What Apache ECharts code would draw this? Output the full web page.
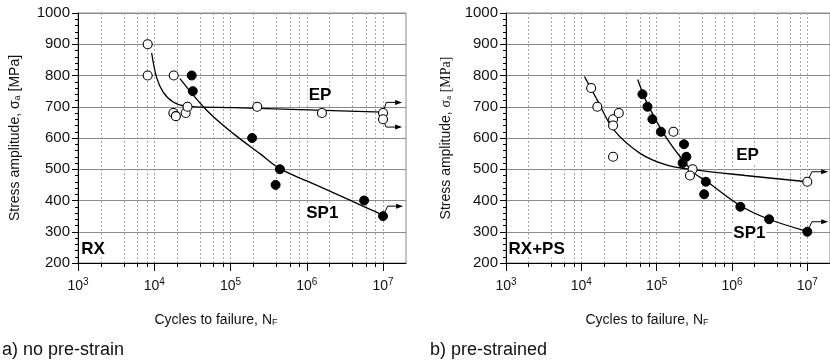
<!DOCTYPE html>
<html>
<head>
<meta charset="utf-8">
<script src="https://cdn.jsdelivr.net/npm/echarts@6/dist/echarts.min.js"></script>
<style>html,body{margin:0;padding:0;background:#fff}#c{width:830px;height:364px}</style>
</head>
<body>
<div id="c"></div>
<script>
// ---------- data ----------
const decadeTicks = [1e3, 1e4, 1e5, 1e6, 1e7];
const minorTicks = [2e3,4e3,6e3,8e3, 2e4,4e4,6e4,8e4, 2e5,4e5,6e5,8e5, 2e6,4e6,6e6,8e6];
const yTicks = [200,300,400,500,600,700,800,900,1000];

// panel a) no pre-strain (RX)
const aEPCycles  = [8.2e3, 8.2e3, 1.8e4, 1.78e4, 1.92e4, 2.58e4, 2.73e4, 2.24e5, 1.58e6, 1e7, 1e7];
const aEPStress  = [900, 800, 800, 680, 670, 680, 700, 700, 680, 680, 660];
const aSPCycles  = [3.1e4, 3.2e4, 1.92e5, 4.44e5, 3.9e5, 5.65e6, 1e7];
const aSPStress  = [800, 750, 600, 500, 450, 400, 350];
const aEPFitCycles = [9.25e3, 1.07e4, 1.31e4, 1.77e4, 2.65e4, 1.09e5, 8.1e5, 1e7];
const aEPFitStress = [872, 795, 747, 715, 701, 697, 691, 683];
const aSPFitCycles = [2.17e4, 4.86e4, 1.09e5, 2.43e5, 4.44e5, 1.34e6, 3.67e6, 1e7];
const aSPFitStress = [790, 689, 614, 550, 502, 449, 401, 353];
const aRunouts = [
  [[1e7,680],[1.1e7,714],[1.6e7,714]],
  [[1e7,660],[1.1e7,635],[1.6e7,635]],
  [[1e7,350],[1.15e7,382],[1.65e7,382]]
];
const aLabels = [ {t:'EP', x:1.49e6, y:737}, {t:'SP1', x:1.6e6, y:360}, {t:'RX', x:1.57e3, y:245} ];

// panel b) pre-strained (RX+PS)
const bEPCycles  = [1.35e4, 1.63e4, 2.64e4, 2.64e4, 3.14e4, 2.64e4, 1.67e5, 3.0e5, 2.77e5, 1e7];
const bEPStress  = [760, 700, 660, 640, 680, 540, 620, 500, 480, 460];
const bSPCycles  = [6.48e4, 7.55e4, 8.78e4, 1.14e5, 2.31e5, 2.48e5, 2.21e5, 4.5e5, 4.27e5, 1.29e6, 3.11e6, 1e7];
const bSPStress  = [740, 700, 660, 620, 580, 540, 520, 460, 420, 380, 340, 300];
const bEPFitCycles = [1.1e4, 1.63e4, 2.72e4, 6.1e4, 1.37e5, 3e5, 1.5e6, 1e7];
const bEPFitStress = [797, 721, 625, 550, 513, 499, 480, 460];
const bSPFitCycles = [5.6e4, 7.5e4, 1.24e5, 2.05e5, 3.22e5, 4.5e5, 1.26e6, 3.1e6, 1e7];
const bSPFitStress = [787, 710, 614, 540, 486, 463, 385, 340, 301];
const bRunouts = [
  [[1e7,460],[1.15e7,492],[1.7e7,492]],
  [[1e7,300],[1.15e7,332],[1.7e7,332]]
];
const bLabels = [ {t:'EP', x:1.61e6, y:545}, {t:'SP1', x:1.7e6, y:296}, {t:'RX+PS', x:2.55e3, y:245} ];

// ---------- build ----------
const FONT = 'Liberation Sans, Arial, sans-serif';
const zip = (xs, ys) => xs.map((x, i) => [x, ys[i]]);
const grids = [
  {left: 78, top: 13, width: 328, height: 250},
  {left: 506, top: 13, width: 327, height: 250}
];

function xAxes(gi) {
  return [
    {
      type: 'log', logBase: 10, gridIndex: gi, min: 1e3, max: 2e7,
      axisLine: {show: true, lineStyle: {color: '#000', width: 1}},
      axisTick: {show: true, length: 4, inside: false, customValues: minorTicks.concat(decadeTicks), lineStyle: {color: '#000'}},
      splitLine: {show: true, lineStyle: {color: '#a8a8a8', type: [2, 2], width: 1}},
      axisLabel: {
        customValues: decadeTicks, margin: 14, color: '#111',
        formatter: v => '{b|10}{e|' + Math.round(Math.log10(v)) + '}',
        rich: {
          b: {fontSize: 14, fontFamily: FONT, color: '#111', lineHeight: 18},
          e: {fontSize: 10, fontFamily: FONT, color: '#111', verticalAlign: 'top', lineHeight: 12}
        }
      }
    },
    {
      type: 'log', logBase: 10, gridIndex: gi, min: 1e3, max: 2e7, position: 'bottom',
      axisLine: {show: false},
      axisTick: {show: true, length: 8, customValues: decadeTicks, lineStyle: {color: '#000'}},
      splitLine: {show: false},
      axisLabel: {show: false}
    }
  ];
}

function yAxis(gi, gap, serif) {
  const sf = serif ? 'Liberation Serif, Times New Roman, serif' : FONT;
  return {
    type: 'value', gridIndex: gi, min: 200, max: 1000, interval: 100,
    axisLine: {show: true, lineStyle: {color: '#000', width: 1}},
    axisTick: {show: true, length: 6, lineStyle: {color: '#000'}},
    minorTick: {show: true, splitNumber: 5, length: 3, lineStyle: {color: '#000'}},
    splitLine: {show: true, lineStyle: {color: '#8a8a8a', width: 1.2}},
    axisLabel: {fontSize: 15, fontFamily: FONT, color: '#111', margin: 8, formatter: v => String(v)},
    name: '{t|Stress amplitude, }{g|σ}{s|a}{m| [MPa]}',
    nameLocation: 'middle', nameRotate: 90, nameGap: gap,
    nameTextStyle: {
      rich: {
        t: {fontSize: 14, fontFamily: FONT, color: '#111'},
        g: {fontSize: 14, fontFamily: sf, color: '#111'},
        s: {fontSize: 9, fontFamily: sf, color: '#111', verticalAlign: 'bottom', padding: [4, 0, 0, 0]},
        m: {fontSize: 14, fontFamily: sf, color: '#111'}
      }
    }
  };
}

function panelSeries(xi, yi, ep, sp, epFit, spFit, runouts, labels) {
  const s = [];
  s.push({type: 'line', xAxisIndex: xi, yAxisIndex: yi, data: epFit, smooth: 0.35, showSymbol: false, symbol: 'none',
          lineStyle: {color: '#000', width: 1.3}, z: 3, silent: true});
  s.push({type: 'line', xAxisIndex: xi, yAxisIndex: yi, data: spFit, smooth: 0.35, showSymbol: false, symbol: 'none',
          lineStyle: {color: '#000', width: 1.3}, z: 3, silent: true});
  runouts.forEach(r => s.push({
    type: 'line', xAxisIndex: xi, yAxisIndex: yi, z: 3, silent: true, symbol: 'none',
    lineStyle: {color: '#000', width: 1},
    itemStyle: {color: '#000', opacity: 1},
    data: r.map((p, i) => i === r.length - 1
      ? {value: p, symbol: 'triangle', symbolSize: [5, 7], symbolRotate: -90}
      : {value: p, symbol: 'none'})
  }));
  s.push({type: 'scatter', xAxisIndex: xi, yAxisIndex: yi, data: ep, symbol: 'circle', symbolSize: 9, z: 5,
          itemStyle: {color: '#fff', borderColor: '#000', borderWidth: 1.1, opacity: 1}});
  s.push({type: 'scatter', xAxisIndex: xi, yAxisIndex: yi, data: sp, symbol: 'circle', symbolSize: 9, z: 5,
          itemStyle: {color: '#000', borderColor: '#000', borderWidth: 1, opacity: 1}});
  s.push({type: 'scatter', xAxisIndex: xi, yAxisIndex: yi, symbolSize: 0, z: 6, silent: true,
          itemStyle: {opacity: 1},
          data: labels.map(l => ({value: [l.x, l.y], name: l.t})),
          label: {show: true, position: 'inside', formatter: p => p.name, fontSize: 17, fontWeight: 'bold',
                  fontFamily: FONT, color: '#000', backgroundColor: '#fff', padding: [0, 1]}});
  return s;
}

const chart = echarts.init(document.getElementById('c'), null, {renderer: 'canvas'});
chart.setOption({
  animation: false,
  backgroundColor: '#fff',
  grid: [
    Object.assign({show: true, borderColor: '#8a8a8a', borderWidth: 1, containLabel: false}, grids[0]),
    Object.assign({show: true, borderColor: '#8a8a8a', borderWidth: 1, containLabel: false}, grids[1])
  ],
  xAxis: xAxes(0).concat(xAxes(1)),
  yAxis: [yAxis(0, 56, false), yAxis(1, 53, true)],
  series: panelSeries(0, 0, zip(aEPCycles, aEPStress), zip(aSPCycles, aSPStress),
                      zip(aEPFitCycles, aEPFitStress), zip(aSPFitCycles, aSPFitStress), aRunouts, aLabels)
    .concat(panelSeries(2, 1, zip(bEPCycles, bEPStress), zip(bSPCycles, bSPStress),
                      zip(bEPFitCycles, bEPFitStress), zip(bSPFitCycles, bSPFitStress), bRunouts, bLabels)),
  graphic: [
    {type: 'text', x: 216, y: 320, style: {text: '{t|Cycles to failure, N}{s|F}', align: 'center', verticalAlign: 'middle',
      rich: {t: {fontSize: 14, fontFamily: FONT, fill: '#111'}, s: {fontSize: 9, fontFamily: FONT, fill: '#111', padding: [5,0,0,0]}}}},
    {type: 'text', x: 647, y: 320, style: {text: '{t|Cycles to failure, N}{s|F}', align: 'center', verticalAlign: 'middle',
      rich: {t: {fontSize: 14, fontFamily: FONT, fill: '#111'}, s: {fontSize: 9, fontFamily: FONT, fill: '#111', padding: [5,0,0,0]}}}},
    {type: 'text', x: 2, y: 350, style: {text: 'a) no pre-strain', fontSize: 18, fontFamily: FONT, fill: '#111', align: 'left', verticalAlign: 'middle'}},
    {type: 'text', x: 430, y: 350, style: {text: 'b) pre-strained', fontSize: 18, fontFamily: FONT, fill: '#111', align: 'left', verticalAlign: 'middle'}}
  ]
});
</script>
</body>
</html>
